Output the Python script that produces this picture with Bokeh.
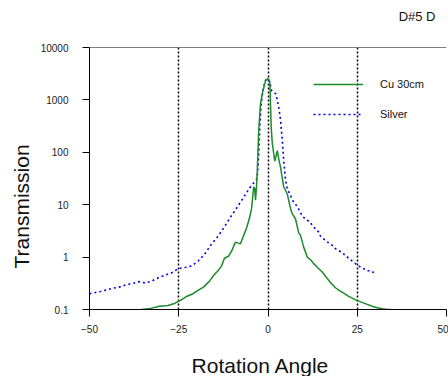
from bokeh.plotting import figure
from bokeh.models import (FixedTicker, CustomJSTickFormatter, Span, Title, Label,
                          Legend, LegendItem, Range1d)
from bokeh.embed import file_html
from bokeh.resources import INLINE

# ---- data ----
cu_angle = [-35.5, -33.0, -30.5, -28.0, -26.0, -24.5, -23.0, -21.0, -19.5, -18.0,
            -16.5, -15.2, -14.0, -13.0, -12.2, -11.0, -10.2, -9.1, -8.3, -7.7,
            -6.8, -6.0, -5.2, -4.6, -4.2, -4.0, -3.7, -3.5, -3.2, -3.0,
            -2.6, -2.1, -1.6, -0.7, 0.0, 0.5, 0.9, 1.2, 1.9, 2.6,
            3.0, 3.5, 4.4, 5.4, 6.3, 6.8, 7.7, 8.6, 9.1, 10.0,
            11.0, 12.0, 12.8, 14.0, 15.2, 16.6, 17.8, 18.9, 20.0, 21.2,
            22.5, 24.0, 25.0, 26.5, 27.8, 29.2, 30.6, 32.0, 33.4, 34.5]
cu_trans = [0.100, 0.104, 0.115, 0.119, 0.132, 0.150, 0.175, 0.200, 0.235, 0.270,
            0.340, 0.450, 0.550, 0.680, 0.950, 1.05, 1.30, 1.93, 1.85, 1.80,
            2.6, 3.6, 5.5, 8.5, 16.0, 22.0, 20.0, 12.2, 23.0, 45.0,
            260.0, 850.0, 1300.0, 2340.0, 2550.0, 2250.0, 300.0, 150.0, 68.0, 108.0,
            75.0, 52.0, 22.0, 16.0, 8.5, 6.7, 5.4, 2.9, 2.6, 1.55,
            1.0, 0.88, 0.75, 0.62, 0.52, 0.39, 0.31, 0.26, 0.23, 0.205,
            0.18, 0.16, 0.148, 0.135, 0.125, 0.115, 0.108, 0.103, 0.100, 0.100]

ag_angle = [-50.0, -47.0, -44.0, -41.5, -39.4, -37.5, -36.2, -34.3, -32.5, -30.5,
            -28.5, -27.0, -25.0, -23.0, -21.7, -20.5, -19.5, -18.5, -17.3, -16.1,
            -14.2, -12.4, -10.5, -8.6, -6.8, -4.9, -4.0, -3.2, -2.9, -2.6,
            -2.3, -1.9, -1.3, -0.7, -0.2, 0.5, 1.0, 2.2, 3.0, 3.5,
            4.0, 4.4, 4.9, 5.4, 6.3, 7.2, 8.2, 9.6, 10.5, 11.9,
            12.4, 14.2, 14.7, 16.6, 18.4, 18.9, 20.5, 21.7, 23.0, 24.5,
            25.5, 26.8, 27.8, 28.7, 29.8, 30.2]
ag_trans = [0.20, 0.22, 0.25, 0.27, 0.30, 0.32, 0.34, 0.32, 0.35, 0.41,
            0.46, 0.50, 0.61, 0.64, 0.67, 0.75, 0.85, 1.0, 1.25, 1.67,
            2.4, 3.6, 5.8, 9.0, 14.0, 22.0, 26.0, 30.0, 40.0, 94.0,
            300.0, 850.0, 1750.0, 2340.0, 2550.0, 2200.0, 1500.0, 1300.0, 730.0, 420.0,
            170.0, 70.0, 30.0, 20.0, 15.0, 11.0, 9.3, 6.1, 5.3, 4.6,
            4.0, 3.0, 2.5, 1.95, 1.6, 1.45, 1.25, 1.08, 0.9, 0.75,
            0.67, 0.60, 0.55, 0.55, 0.50, 0.47]

x_ticks = [-50, -25, 0, 25, 50]
y_ticks = [0.1, 1, 10, 100, 1000, 10000]
y_tick_labels = ["0.1", "1", "10", "100", "1000", "10000"]

series_names = ["Cu 30cm", "Silver"]
chart_title = "D#5 D"
x_title = "Rotation Angle"
y_title = "Transmission"

FONT = "Liberation Sans"

p = figure(width=448, height=376, y_axis_type="log",
           x_range=Range1d(-50, 50), y_range=Range1d(0.1, 10000),
           output_backend="svg", toolbar_location=None,
           min_border_left=89, min_border_right=2,
           min_border_top=47, min_border_bottom=67)
p.background_fill_color = "white"
p.border_fill_color = "white"
p.outline_line_color = None

# titles
p.add_layout(Label(text=chart_title, x=346, y=31, x_units="screen", y_units="screen",
                   text_align="right", text_baseline="alphabetic",
                   text_font=FONT, text_font_size="13px", text_color="#111"), "above")
p.add_layout(Title(text=y_title, align="left", offset=41, standoff=9,
                   text_font=FONT, text_font_size="21px", text_font_style="normal",
                   text_color="#111"), "left")
p.add_layout(Label(text=x_title, x=171, y=-7, x_units="screen", y_units="screen",
                   text_align="center", text_baseline="alphabetic",
                   text_font=FONT, text_font_size="21px", text_color="#111"), "below")

# grid
p.xgrid.ticker = FixedTicker(ticks=x_ticks)
p.xgrid.grid_line_color = "black"
p.xgrid.grid_line_width = 1.5
p.xgrid.grid_line_dash = "2 2"
p.ygrid.visible = False

# axes
for ax in (p.xaxis[0], p.yaxis[0]):
    ax.axis_line_color = "black"
    ax.axis_line_width = 1
    ax.major_tick_line_color = "black"
    ax.major_tick_out = 7
    ax.major_tick_in = 0
    ax.minor_tick_line_color = None
    ax.major_label_text_font = FONT
    ax.major_label_text_font_size = "10px"
    ax.major_label_text_color = "#222"

p.xaxis.ticker = FixedTicker(ticks=x_ticks)
p.xaxis.major_label_standoff = 8
p.yaxis.ticker = FixedTicker(ticks=y_ticks)
p.yaxis.major_label_standoff = 14
p.yaxis.formatter = CustomJSTickFormatter(
    args=dict(tvals=y_ticks, tlabels=y_tick_labels),
    code="""
    for (let i = 0; i < tvals.length; i++) {
        if (Math.abs(Math.log10(tvals[i]) - Math.log10(tick)) < 1e-6) return tlabels[i];
    }
    return '';
    """)

# top border
p.add_layout(Span(location=10000, dimension="width", line_color="black", line_width=1))

# series
r_ag = p.line(ag_angle, ag_trans, line_color="#0000ee", line_width=1.6, line_dash="2 3")
r_cu = p.line(cu_angle, cu_trans, line_color="#1a8a2a", line_width=1.5)

legend = Legend(items=[LegendItem(label=series_names[0], renderers=[r_cu]),
                       LegendItem(label=series_names[1], renderers=[r_ag])],
                location=(224, 185), orientation="vertical",
                glyph_width=50, glyph_height=20, label_height=20,
                label_standoff=17, spacing=10, padding=0, margin=0,
                border_line_color=None, background_fill_alpha=0,
                label_text_font=FONT, label_text_font_size="11px",
                label_text_color="#111")
p.add_layout(legend, "center")

open("out.html", "w").write(file_html(p, INLINE))
